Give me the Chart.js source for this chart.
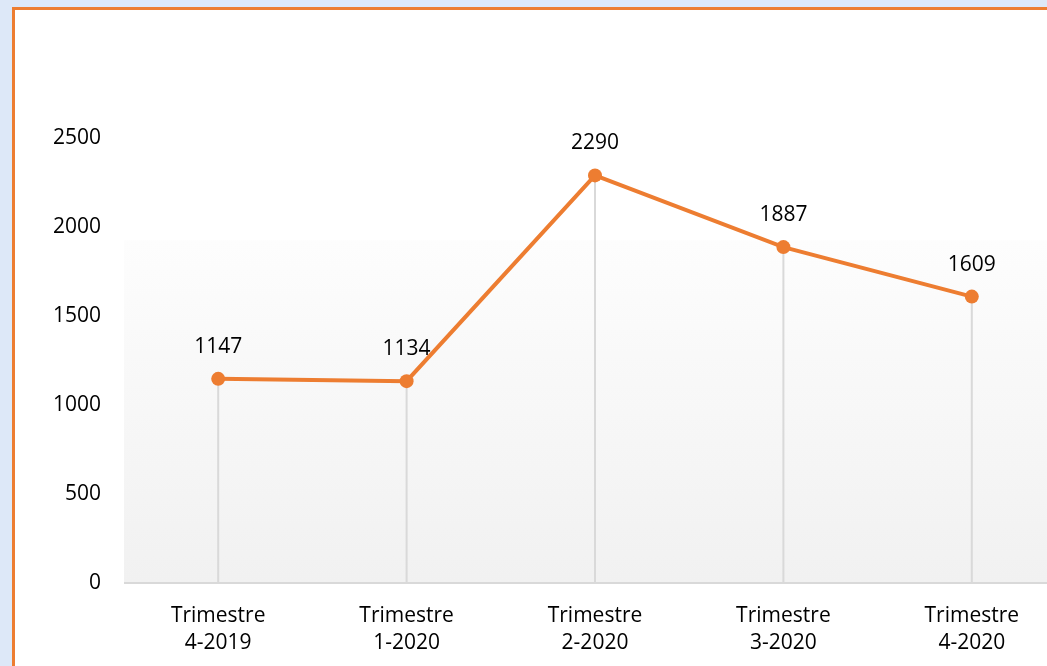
<!DOCTYPE html>
<html>
<head>
<meta charset="utf-8">
<script src="https://cdn.jsdelivr.net/npm/chart.js@4/dist/chart.umd.min.js"></script>
<style>
	html, body { margin: 0; padding: 0; }
	body { width: 1047px; height: 666px; overflow: hidden; background: #dde8f8; position: relative; }
	#frame { position: absolute; left: 12px; top: 7px; width: 1100px; height: 700px; background: #fff; border-left: 3px solid #ed7d31; border-top: 3px solid #ed7d31; }
	#wrap { position: absolute; left: 15px; top: 10px; width: 1058px; height: 656px; }
</style>
</head>
<body>
<div id="frame"></div>
<div id="wrap"><canvas id="trimChart"></canvas></div>
<script>
// data
var labels = [['Trimestre', '4-2019'], ['Trimestre', '1-2020'], ['Trimestre', '2-2020'], ['Trimestre', '3-2020'], ['Trimestre', '4-2020']];
var values = [1147, 1134, 2290, 1887, 1609];
var yTicks = [0, 500, 1000, 1500, 2000, 2500];

var orange = '#ed7d31';
var fontFam = '"Open Sans", Lato, sans-serif';

// shaded band behind the plot and the drop lines to the axis
var backPlugin = {
	id: 'backPlugin',
	beforeDatasetsDraw: function (chart) {
		var c = chart.ctx, a = chart.chartArea;
		var y = chart.scales.y;
		var top = y.getPixelForValue(1925);
		c.save();
		var g = c.createLinearGradient(0, top, 0, a.bottom);
		g.addColorStop(0, '#fdfdfd');
		g.addColorStop(1, '#f1f1f1');
		c.fillStyle = g;
		c.fillRect(a.left, top, a.right - a.left + 20, a.bottom - top);
		// drop lines
		var meta = chart.getDatasetMeta(0);
		c.strokeStyle = '#d9d9d9';
		c.lineWidth = 2;
		meta.data.forEach(function (pt) {
			c.beginPath();
			c.moveTo(pt.x, pt.y);
			c.lineTo(pt.x, a.bottom);
			c.stroke();
		});
		// axis line
		c.beginPath();
		c.moveTo(a.left, a.bottom);
		c.lineTo(a.right + 20, a.bottom);
		c.stroke();
		c.restore();
	}
};

var labelPlugin = {
	id: 'labelPlugin',
	afterDatasetsDraw: function (chart) {
		var c = chart.ctx;
		var meta = chart.getDatasetMeta(0);
		c.save();
		c.font = '21px ' + fontFam;
		c.fillStyle = '#000';
		c.textAlign = 'center';
		c.textBaseline = 'middle';
		meta.data.forEach(function (pt, i) {
			c.fillText(values[i], pt.x, pt.y - 32);
		});
		c.restore();
	}
};

var ctx = document.getElementById('trimChart').getContext('2d');
var chart = new Chart(ctx, {
	type: 'line',
	data: {
		labels: labels,
		datasets: [{
			data: values,
			borderColor: orange,
			backgroundColor: orange,
			borderWidth: 4,
			pointRadius: 7,
			pointHoverRadius: 7,
			pointBackgroundColor: orange,
			pointBorderWidth: 0,
			tension: 0,
			clip: false
		}]
	},
	options: {
		responsive: true,
		maintainAspectRatio: false,
		animation: false,
		layout: { padding: { top: 128, right: 0, left: 0, bottom: 0 } },
		plugins: {
			legend: { display: false },
			tooltip: { enabled: false }
		},
		scales: {
			x: {
				offset: true,
				grid: { display: false },
				border: { display: false },
				ticks: {
					color: '#000',
					font: { family: fontFam, size: 21, lineHeight: 1.3 },
					padding: 11,
					maxRotation: 0
				},
				afterFit: function (s) { s.height = 83; }
			},
			y: {
				min: 0,
				max: 2500,
				afterBuildTicks: function (s) { s.ticks = yTicks.map(function (v) { return { value: v }; }); },
				grid: { display: false },
				border: { display: false },
				ticks: {
					color: '#000',
					font: { family: fontFam, size: 21 },
					padding: 15,
					callback: function (v) { return String(v); }
				},
				afterFit: function (s) { s.width = 109; }
			}
		}
	},
	plugins: [backPlugin, labelPlugin]
});
</script>
</body>
</html>
